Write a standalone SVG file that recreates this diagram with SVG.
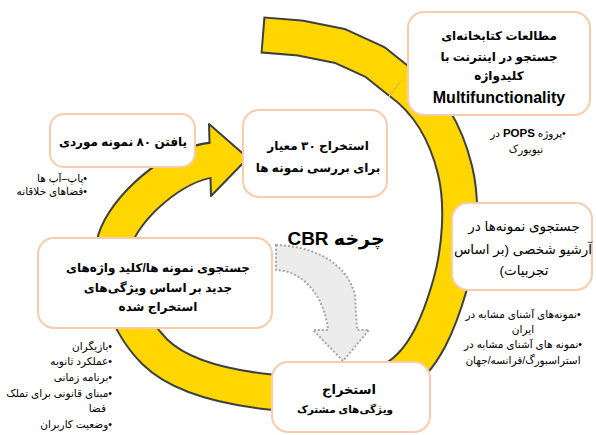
<svg xmlns="http://www.w3.org/2000/svg" width="596" height="435" viewBox="0 0 596 435">
<style>
.t{font-family:"Liberation Sans","DejaVu Sans",sans-serif;direction:rtl;unicode-bidi:embed;fill:#000}
.b{font-weight:bold}
.c{text-anchor:middle}
.r{text-anchor:start}
.box{fill:#fff;stroke:#f8cbad;stroke-width:2}
.h{font-size:12px}
.s{font-size:10.5px}
.n{font-size:10.5px}
.band-o{fill:none;stroke:#3f3f3f;stroke-width:37;stroke-linejoin:round}
.band-i{fill:none;stroke:#ffd600;stroke-width:33;stroke-linejoin:round}
</style>
<rect width="596" height="435" fill="#fff"/>
<g id="connectors">
  <g id="cycle-arrow">
    <path class="band-o" d="M 262 35 L 300 38 L 340 46 L 375 62 L 400 82"/>
    <path class="band-o" d="M 400 82 C 431.5 104.5 446.7 136.2 455 170 C 463.3 203.8 460 250.3 450 285 C 440 319.7 425 360.2 395 378 C 365 395.8 310 396.3 270 392 C 230 387.7 180.8 377.3 155 352 C 129.2 326.7 105.5 272 115 240 C 124.5 208 175 163 212 160"/>
    <polygon points="209,124 248,158 211,196" fill="#ffd600" stroke="#3f3f3f" stroke-width="2" stroke-linejoin="round"/>
    <path class="band-i" d="M 264 35 L 300 38 L 340 46 L 375 62 L 400 82"/>
    <path class="band-i" d="M 400 82 C 431.5 104.5 446.7 136.2 455 170 C 463.3 203.8 460 250.3 450 285 C 440 319.7 425 360.2 395 378 C 365 395.8 310 396.3 270 392 C 230 387.7 180.8 377.3 155 352 C 129.2 326.7 105.5 272 115 240 C 124.5 208 175 163 214 160"/>
  </g>
  <path id="gray-arrow" d="M276,245 C310,246 346,260 355,295 L357,330 L369,330 L343,361 L313,330 L328,330 C325,300 306,271 276,270 Z" fill="#ececec" stroke="#a6a6a6" stroke-width="2" stroke-dasharray="2 2"/>
</g>
<g id="n-library">
  <rect class="box" x="408" y="12" width="182" height="103" rx="16"/>
  <text class="t b c h" x="499" y="40">مطالعات کتابخانه‌ای</text>
  <text class="t b c h" x="499" y="61">جستجو در اینترنت با</text>
  <text class="t b c h" x="499" y="80">کلیدواژه</text>
  <text class="t b c" font-size="16" x="499" y="103">Multifunctionality</text>
</g>
<g id="n-library-notes">
  <text class="t c n" x="528" y="137">•پروژه <tspan class="b" font-size="11.5">POPS</tspan> در</text>
  <text class="t c n" x="526" y="153">نیویورک</text>
</g>
<g id="n-archive">
  <rect class="box" x="452" y="203" width="140" height="87" rx="16"/>
  <text class="t c" font-size="13.5" x="524" y="231">جستجوی نمونه‌ها در</text>
  <text class="t c" font-size="13.5" x="523" y="254">آرشیو شخصی (بر اساس</text>
  <text class="t c" font-size="13.5" x="524" y="275">تجربیات)</text>
</g>
<g id="n-archive-notes">
  <text class="t c n" x="523" y="318">•نمونه‌های آشنای مشابه در</text>
  <text class="t c n" x="523" y="333">ایران</text>
  <text class="t c n" x="523" y="348">•نمونه های آشنای مشابه در</text>
  <text class="t c n" x="523" y="364">استراسبورگ/فرانسه/جهان</text>
</g>
<g id="n-find80">
  <rect class="box" x="50" y="114" width="145" height="53" rx="14"/>
  <text class="t b c h" x="123" y="146">یافتن ۸۰ نمونه موردی</text>
</g>
<g id="n-find80-notes">
  <text class="t r s" x="87" y="182">•پاپ–آپ ها</text>
  <text class="t r s" x="87" y="195">•فضاهای خلاقانه</text>
</g>
<g id="n-criteria">
  <rect class="box" x="243" y="110" width="144" height="87" rx="16"/>
  <text class="t b c h" x="318" y="150">استخراج ۳۰ معیار</text>
  <text class="t b c h" x="318" y="172">برای بررسی نمونه ها</text>
</g>
<g id="n-newsearch">
  <rect class="box" x="38" y="238" width="234" height="90" rx="16"/>
  <text class="t b c h" x="158" y="272">جستجوی نمونه ها/کلید واژه‌های</text>
  <text class="t b c h" x="158" y="292">جدید بر اساس ویژگی‌های</text>
  <text class="t b c h" x="158" y="311">استخراج شده</text>
</g>
<g id="n-newsearch-notes">
  <text class="t r s" x="112" y="350">•بازیگران</text>
  <text class="t r s" x="112" y="365">•عملکرد ثانوبه</text>
  <text class="t r s" x="112" y="381">•برنامه زمانی</text>
  <text class="t r s" x="112" y="397">•مبنای قانونی برای تملک</text>
  <text class="t r s" x="106" y="412">فضا</text>
  <text class="t r s" x="112" y="428">•وضعیت کاربران</text>
</g>
<g id="n-common">
  <rect class="box" x="272" y="362" width="158" height="70" rx="16"/>
  <text class="t b c" font-size="13" x="349" y="394">استخراج</text>
  <text class="t b c" font-size="10.5" x="345" y="413">ویژگی‌های مشترک</text>
</g>
<g id="n-cbr">
  <text class="t b c" font-size="19" x="336" y="245">چرخه CBR</text>
</g>
</svg>
